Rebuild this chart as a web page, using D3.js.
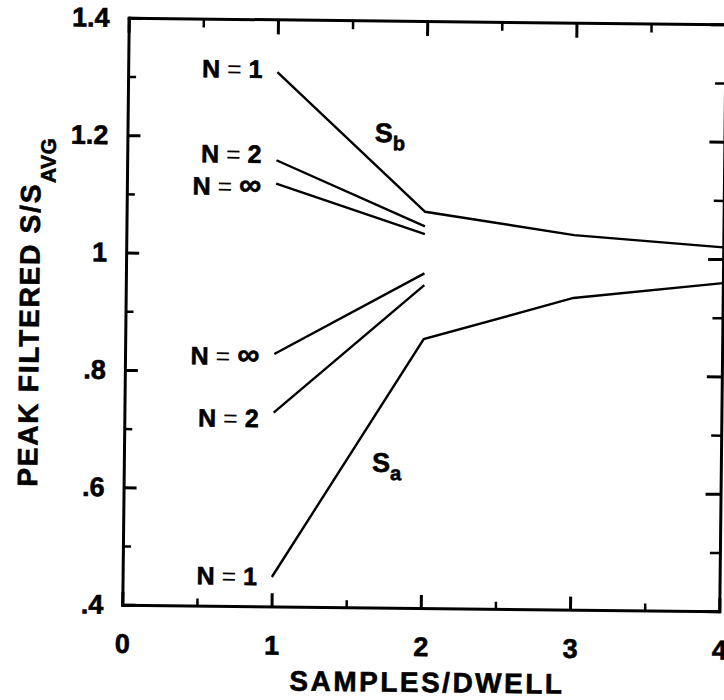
<!DOCTYPE html>
<html>
<head>
<meta charset="utf-8">
<script src="https://cdn.jsdelivr.net/npm/d3@7"></script>
<style>
body { margin: 0; background: #fff; }
text { font-family: "Liberation Sans", Arial, sans-serif; font-weight: bold; fill: #000; stroke: #000; stroke-width: 0.6px; }
</style>
</head>
<body>
<div id="chart"></div>
<script>
// samples/dwell on x, peak filtered S/Savg on y
var samples = [1, 2, 3, 4];
var sbN1 = [1.31, 1.075, 1.038, 1.02];
var sbN2 = [1.16, 1.05];
var sbInf = [1.12, 1.037];
var saInf = [0.83, 0.97];
var saN2 = [0.73, 0.95];
var saN1 = [0.45, 0.858, 0.931, 0.959];

var xTicks = [0, 1, 2, 3, 4];
var xMinor = [0.5, 1.5, 2.5, 3.5];
var yTicks = [0.4, 0.6, 0.8, 1, 1.2, 1.4];
var yTickLabels = [".4", ".6", ".8", "1", "1.2", "1.4"];
var yMinor = [0.5, 0.7, 0.9, 1.1, 1.3];

// curve labels, anchored in data units (right end, baseline)
var curveNames = ["1", "2", "\u221e", "\u221e", "2", "1"];
var curveLabelY = [1.30, 1.155, 1.10, 0.811, 0.705, 0.436];
var labelX = 0.9;

var svg = d3.select("#chart").append("svg")
  .attr("width", 724)
  .attr("height", 700);

// the scan is turned a little clockwise
var g = svg.append("g")
  .attr("transform", "rotate(0.63,424,314.5)");

var x = d3.scaleLinear().domain([0, 4]).range([125.5, 722.5]);
var y = d3.scaleLinear().domain([0.4, 1.4]).range([608, 21]);

function styleAxis(sel, major) {
  sel.attr("font-family", null).attr("font-size", 27);
  sel.select(".domain").attr("stroke-width", 3).attr("stroke-linecap", "square");
  sel.selectAll(".tick line").attr("stroke-width", major ? 3 : 2.5);
  if (!major) sel.select(".domain").remove();
}

// bottom
g.append("g")
  .attr("transform", "translate(0," + y(0.4) + ")")
  .call(d3.axisBottom(x).tickValues(xTicks).tickSize(-13).tickSizeOuter(0)
    .tickPadding(29).tickFormat(d3.format("d")))
  .call(styleAxis, true);
g.append("g")
  .attr("transform", "translate(0," + y(0.4) + ")")
  .call(d3.axisBottom(x).tickValues(xMinor).tickSize(-7).tickFormat(""))
  .call(styleAxis, false);

// top
g.append("g")
  .attr("transform", "translate(0," + y(1.4) + ")")
  .call(d3.axisTop(x).tickValues(xTicks).tickSize(-15).tickSizeOuter(0).tickFormat(""))
  .call(styleAxis, true);
g.append("g")
  .attr("transform", "translate(0," + y(1.4) + ")")
  .call(d3.axisTop(x).tickValues(xMinor).tickSize(-9).tickFormat(""))
  .call(styleAxis, false);

// left
g.append("g")
  .attr("transform", "translate(" + x(0) + ",0)")
  .call(d3.axisLeft(y).tickValues(yTicks).tickSize(-13).tickSizeOuter(0)
    .tickPadding(19).tickFormat(function (d, i) { return yTickLabels[i]; }))
  .call(styleAxis, true);
g.append("g")
  .attr("transform", "translate(" + x(0) + ",0)")
  .call(d3.axisLeft(y).tickValues(yMinor).tickSize(-8).tickFormat(""))
  .call(styleAxis, false);

// right
g.append("g")
  .attr("transform", "translate(" + x(4) + ",0)")
  .call(d3.axisRight(y).tickValues(yTicks).tickSize(-15).tickSizeOuter(0).tickFormat(""))
  .call(styleAxis, true);
g.append("g")
  .attr("transform", "translate(" + x(4) + ",0)")
  .call(d3.axisRight(y).tickValues(yMinor).tickSize(-10).tickFormat(""))
  .call(styleAxis, false);

// curves
var curves = [sbN1, sbN2, sbInf, saInf, saN2, saN1];
var line = d3.line()
  .x(function (d, i) { return x(samples[i]); })
  .y(function (d) { return y(d); });

g.selectAll(".curve")
  .data(curves)
  .enter().append("path")
  .attr("class", "curve")
  .attr("fill", "none")
  .attr("stroke", "#000")
  .attr("stroke-width", 2.4)
  .attr("d", line);

// N = .. labels
var lab = g.selectAll(".nlabel")
  .data(curveNames)
  .enter().append("text")
  .attr("class", "nlabel")
  .attr("x", x(labelX))
  .attr("y", function (d, i) { return y(curveLabelY[i]); })
  .attr("text-anchor", "end")
  .attr("font-size", 25);
lab.append("tspan").text("N ");
lab.append("tspan").attr("font-weight", "normal").style("stroke-width", "0px").text("= ");
lab.append("tspan")
  .attr("font-size", function (d) { return d === "\u221e" ? 31 : 25; })
  .text(function (d) { return d; });

// S_b and S_a
var sNames = ["b", "a"];
var sX = [1.658, 1.663];
var sY = [1.193, 0.631];
var sl = g.selectAll(".slabel")
  .data(sNames)
  .enter().append("text")
  .attr("class", "slabel")
  .attr("x", function (d, i) { return x(sX[i]); })
  .attr("y", function (d, i) { return y(sY[i]); })
  .attr("font-size", 27);
sl.append("tspan").text("S");
sl.append("tspan").attr("font-size", 20).attr("dy", 8).text(function (d) { return d; });

// axis titles
g.append("text")
  .attr("x", 431)
  .attr("y", 692)
  .attr("text-anchor", "middle")
  .attr("font-size", 28)
  .attr("letter-spacing", 2.5)
  .text("SAMPLES/DWELL");

var yt = g.append("text")
  .attr("transform", "translate(39,491) rotate(-90)")
  .attr("font-size", 28)
  .attr("letter-spacing", 1.8);
yt.append("tspan").text("PEAK FILTERED S/S");
yt.append("tspan").attr("font-size", 21).attr("dy", 15).attr("letter-spacing", 0.5).text("AVG");
</script>
</body>
</html>
